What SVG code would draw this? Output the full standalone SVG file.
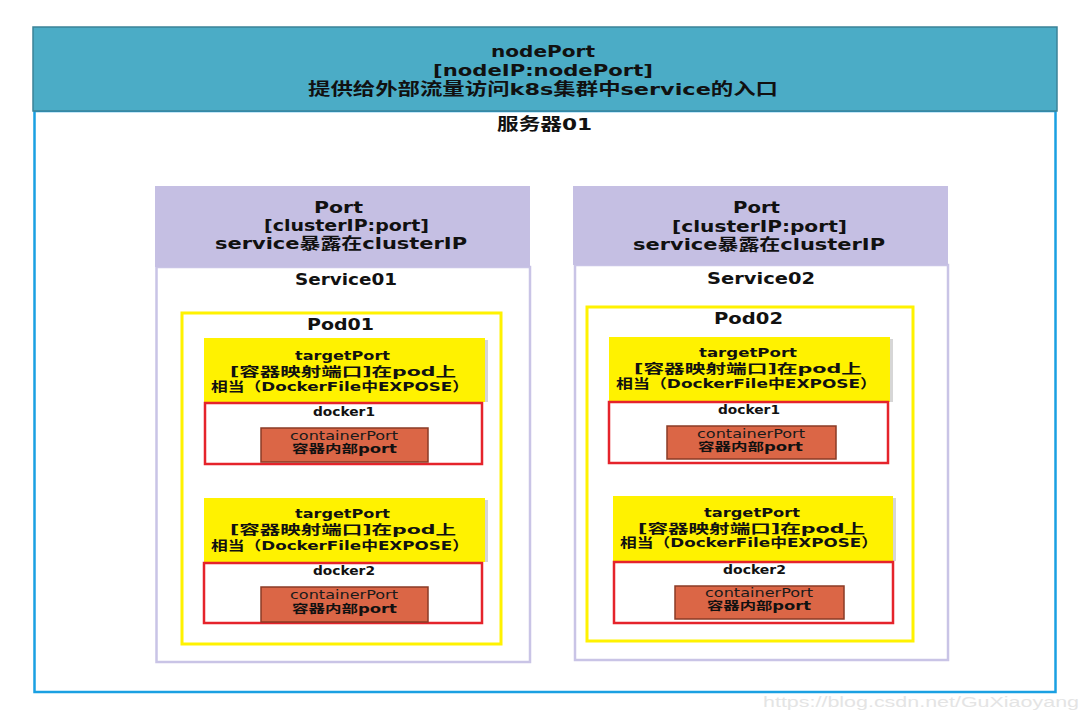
<svg xmlns="http://www.w3.org/2000/svg" width="1083" height="711" viewBox="0 0 1083 711">
<style>
text{font-family:"DejaVu Sans","Noto Sans CJK SC",sans-serif;font-weight:bold;fill:#111;text-anchor:middle}
.h{font-size:16.5px}
.p{font-size:15.5px}
.t{font-size:13px}
.d{font-size:11.5px}
.cpn{font-size:11.5px;font-weight:normal;fill:#1a1a1a}
.purple{fill:#C5BFE3}
.svc{fill:#fff;stroke:#C9C4E6;stroke-width:2.5}
.pod{fill:none;stroke:#FFF200;stroke-width:3}
.tp{fill:#FFF200}
.sh{fill:#D6D6D6}
.dk{fill:#fff;stroke:#E5232B;stroke-width:2.5}
.cp{fill:#DB6646;stroke:#8A3B26;stroke-width:1.5}
.wm{font-family:"Liberation Sans",sans-serif;font-weight:normal;font-size:14px;fill:#E4E4E4;text-anchor:start}
</style>
<rect width="1083" height="711" fill="#fff"/>
<g id="server01">
<rect x="34.5" y="111" width="1021" height="581" fill="#fff" stroke="#1AA0E2" stroke-width="2.5"/>
<rect x="33" y="27" width="1024" height="84" fill="#4BACC6" stroke="#3B8398" stroke-width="1.5"/>
<text class="h" x="543" y="57" textLength="104" lengthAdjust="spacingAndGlyphs">nodePort</text>
<text class="h" x="543" y="76" textLength="220" lengthAdjust="spacingAndGlyphs">[nodeIP:nodePort]</text>
<text class="h" x="543" y="95" textLength="470" lengthAdjust="spacingAndGlyphs">提供给外部流量访问k8s集群中service的入口</text>
<text class="h" x="544.5" y="130" textLength="95" lengthAdjust="spacingAndGlyphs">服务器01</text>
</g>
<g id="service01">
<rect class="svc" x="156.5" y="267" width="373.5" height="395"/>
<rect class="purple" x="155" y="186" width="375" height="81"/>
<text class="p" x="338.5" y="213" textLength="49" lengthAdjust="spacingAndGlyphs">Port</text>
<text class="p" x="346.5" y="231" textLength="165" lengthAdjust="spacingAndGlyphs">[clusterIP:port]</text>
<text class="p" x="341" y="249" textLength="252" lengthAdjust="spacingAndGlyphs">service暴露在clusterIP</text>
<text class="p" x="346" y="285" textLength="102" lengthAdjust="spacingAndGlyphs">Service01</text>
</g>
<g id="pod01">
<rect class="pod" x="182" y="313" width="319" height="331"/>
<text class="p" x="340.5" y="330" textLength="67" lengthAdjust="spacingAndGlyphs">Pod01</text>
</g>
<g id="pod01-targetPort1">
<rect class="sh" x="207" y="340" width="281" height="62"/>
<rect class="tp" x="204" y="338" width="281" height="64"/>
<text class="t" x="342.5" y="360" textLength="95" lengthAdjust="spacingAndGlyphs">targetPort</text>
<text class="t" x="343" y="376" textLength="226" lengthAdjust="spacingAndGlyphs">[容器映射端口]在pod上</text>
<text class="t" x="340" y="391" textLength="258" lengthAdjust="spacingAndGlyphs">相当（DockerFile中EXPOSE）</text>
</g>
<g id="pod01-docker1">
<rect class="dk" x="205" y="403" width="277" height="61"/>
<text class="d" x="344" y="416" textLength="62" lengthAdjust="spacingAndGlyphs">docker1</text>
</g>
<g id="pod01-containerPort1">
<rect class="cp" x="261" y="428" width="167" height="34"/>
<text class="cpn" x="344" y="440" textLength="108" lengthAdjust="spacingAndGlyphs">containerPort</text>
<text class="d" x="344.5" y="453" textLength="105" lengthAdjust="spacingAndGlyphs">容器内部port</text>
</g>
<g id="pod01-targetPort2">
<rect class="sh" x="207" y="500" width="281" height="62"/>
<rect class="tp" x="204" y="498" width="281" height="64"/>
<text class="t" x="342.5" y="518" textLength="95" lengthAdjust="spacingAndGlyphs">targetPort</text>
<text class="t" x="343" y="534" textLength="226" lengthAdjust="spacingAndGlyphs">[容器映射端口]在pod上</text>
<text class="t" x="340" y="550" textLength="258" lengthAdjust="spacingAndGlyphs">相当（DockerFile中EXPOSE）</text>
</g>
<g id="pod01-docker2">
<rect class="dk" x="204" y="563" width="278" height="60"/>
<text class="d" x="344" y="575" textLength="62" lengthAdjust="spacingAndGlyphs">docker2</text>
</g>
<g id="pod01-containerPort2">
<rect class="cp" x="261" y="587" width="167" height="35"/>
<text class="cpn" x="344" y="599" textLength="108" lengthAdjust="spacingAndGlyphs">containerPort</text>
<text class="d" x="344.5" y="613" textLength="105" lengthAdjust="spacingAndGlyphs">容器内部port</text>
</g>
<g id="service02">
<rect class="svc" x="575" y="265" width="373" height="395"/>
<rect class="purple" x="573" y="186" width="375" height="79"/>
<text class="p" x="756.5" y="213" textLength="47" lengthAdjust="spacingAndGlyphs">Port</text>
<text class="p" x="759.5" y="232" textLength="175" lengthAdjust="spacingAndGlyphs">[clusterIP:port]</text>
<text class="p" x="759" y="250" textLength="252" lengthAdjust="spacingAndGlyphs">service暴露在clusterIP</text>
<text class="p" x="761" y="284" textLength="108" lengthAdjust="spacingAndGlyphs">Service02</text>
</g>
<g id="pod02">
<rect class="pod" x="587" y="307" width="326" height="334"/>
<text class="p" x="748.5" y="324" textLength="69" lengthAdjust="spacingAndGlyphs">Pod02</text>
</g>
<g id="pod02-targetPort1">
<rect class="sh" x="612" y="339" width="281" height="63"/>
<rect class="tp" x="609" y="337" width="281" height="65"/>
<text class="t" x="748" y="357" textLength="98" lengthAdjust="spacingAndGlyphs">targetPort</text>
<text class="t" x="748" y="373" textLength="228" lengthAdjust="spacingAndGlyphs">[容器映射端口]在pod上</text>
<text class="t" x="746.5" y="388" textLength="261" lengthAdjust="spacingAndGlyphs">相当（DockerFile中EXPOSE）</text>
</g>
<g id="pod02-docker1">
<rect class="dk" x="609" y="402" width="279" height="61"/>
<text class="d" x="749" y="414" textLength="62" lengthAdjust="spacingAndGlyphs">docker1</text>
</g>
<g id="pod02-containerPort1">
<rect class="cp" x="667" y="426" width="169" height="33"/>
<text class="cpn" x="751" y="438" textLength="108" lengthAdjust="spacingAndGlyphs">containerPort</text>
<text class="d" x="750.5" y="451" textLength="105" lengthAdjust="spacingAndGlyphs">容器内部port</text>
</g>
<g id="pod02-targetPort2">
<rect class="sh" x="616" y="498" width="280" height="63"/>
<rect class="tp" x="613" y="496" width="280" height="65"/>
<text class="t" x="752" y="517" textLength="96" lengthAdjust="spacingAndGlyphs">targetPort</text>
<text class="t" x="751.5" y="533" textLength="227" lengthAdjust="spacingAndGlyphs">[容器映射端口]在pod上</text>
<text class="t" x="749" y="547" textLength="258" lengthAdjust="spacingAndGlyphs">相当（DockerFile中EXPOSE）</text>
</g>
<g id="pod02-docker2">
<rect class="dk" x="614" y="562" width="279" height="61"/>
<text class="d" x="754.5" y="574" textLength="63" lengthAdjust="spacingAndGlyphs">docker2</text>
</g>
<g id="pod02-containerPort2">
<rect class="cp" x="675" y="586" width="169" height="33"/>
<text class="cpn" x="759" y="597" textLength="108" lengthAdjust="spacingAndGlyphs">containerPort</text>
<text class="d" x="759" y="610" textLength="104" lengthAdjust="spacingAndGlyphs">容器内部port</text>
</g>
<g id="connectors"></g>
<text class="wm" x="763" y="707" textLength="316" lengthAdjust="spacingAndGlyphs">https://blog.csdn.net/GuXiaoyang</text>
</svg>
